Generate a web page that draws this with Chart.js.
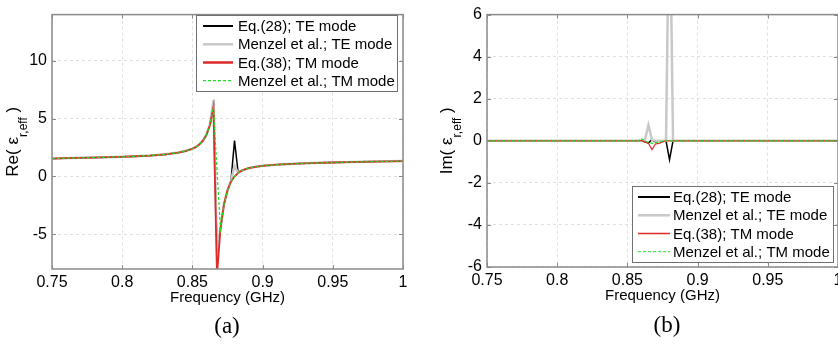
<!DOCTYPE html>
<html>
<head>
<meta charset="utf-8">
<script src="https://cdn.jsdelivr.net/npm/chart.js@4.4.0/dist/chart.umd.min.js"></script>
<style>
  html, body { margin: 0; padding: 0; background: #fff; overflow: hidden; width: 838px; height: 344px; }
  #wrapA { position: absolute; left: 0; top: 0; width: 420px; height: 344px; }
  #wrapB { position: absolute; left: 420px; top: 0; width: 440px; height: 344px; }
</style>
</head>
<body>
<div id="wrapA"><canvas id="chartA" width="420" height="344"></canvas></div>
<div id="wrapB"><canvas id="chartB" width="440" height="344"></canvas></div>
<script>
// frequency samples (GHz)
const freqs = [0.75, 0.76, 0.77, 0.78, 0.79, 0.80, 0.81, 0.82, 0.83, 0.84,
    0.845, 0.85, 0.8525, 0.855, 0.8575, 0.86, 0.8625, 0.865, 0.8675, 0.87,
    0.8725, 0.875, 0.8775, 0.88, 0.8825, 0.885, 0.8875, 0.89, 0.895, 0.90,
    0.91, 0.92, 0.93, 0.94, 0.95, 0.96, 0.97, 0.98, 0.99, 1.00];

// Re(eps_r,eff)
const reEq28TE = [1.55, 1.58, 1.61, 1.64, 1.67, 1.70, 1.75, 1.81, 1.90, 2.07,
    2.20, 2.40, 2.55, 2.78, 3.10, 3.60, 4.45, 6.10, -6.3, -4.5,
    -2.4, -1.2, -0.35, 3.10, 0.40, 0.50, 0.62, 0.72, 0.84, 0.92,
    1.02, 1.09, 1.14, 1.18, 1.21, 1.24, 1.27, 1.29, 1.31, 1.33];
const reMenzelTE = [1.55, 1.58, 1.61, 1.64, 1.67, 1.70, 1.75, 1.81, 1.90, 2.07,
    2.20, 2.40, 2.55, 2.78, 3.10, 3.62, 4.50, 6.60, -6.6, -4.5,
    -2.4, -1.2, -0.40, 0.90, 0.32, 0.50, 0.62, 0.72, 0.84, 0.92,
    1.02, 1.09, 1.14, 1.18, 1.21, 1.24, 1.27, 1.29, 1.31, 1.33];
const reEq38TM = [1.55, 1.58, 1.61, 1.64, 1.67, 1.70, 1.75, 1.81, 1.90, 2.07,
    2.20, 2.40, 2.55, 2.78, 3.10, 3.60, 4.45, 6.00, -8.6, -4.5,
    -2.4, -1.2, -0.45, 0.00, 0.30, 0.50, 0.62, 0.72, 0.84, 0.92,
    1.02, 1.09, 1.14, 1.18, 1.21, 1.24, 1.27, 1.29, 1.31, 1.33];
const reMenzelTM = [1.55, 1.58, 1.61, 1.64, 1.67, 1.70, 1.75, 1.81, 1.90, 2.07,
    2.20, 2.40, 2.55, 2.78, 3.10, 3.60, 4.45, 6.00, 0.60, -4.5,
    -2.4, -1.2, -0.45, 0.00, 0.30, 0.50, 0.62, 0.72, 0.84, 0.92,
    1.02, 1.09, 1.14, 1.18, 1.21, 1.24, 1.27, 1.29, 1.31, 1.33];

// Im(eps_r,eff)
const imEq28TE = [0, 0, 0, 0, 0, 0, 0, 0, 0, 0,
    0, 0, 0, 0, 0, 0, -0.05, -0.10, 0.05, -0.05,
    0, 0, 0, -0.90, 0, 0, 0, 0, 0, 0,
    0, 0, 0, 0, 0, 0, 0, 0, 0, 0];
const imMenzelTE = [0, 0, 0, 0, 0, 0, 0, 0, 0, 0,
    0, 0, 0, 0, 0, 0, 0.05, 0.75, 0.05, 0,
    0, 0, 0, 12.5, 0, 0, 0, 0, 0, 0,
    0, 0, 0, 0, 0, 0, 0, 0, 0, 0];
const imEq38TM = [0, 0, 0, 0, 0, 0, 0, 0, 0, 0,
    0, 0, 0, 0, 0, 0.02, -0.05, -0.12, -0.42, -0.15,
    -0.12, -0.05, 0, 0, 0, 0, 0, 0, 0, 0,
    0, 0, 0, 0, 0, 0, 0, 0, 0, 0];
const imMenzelTM = [0, 0, 0, 0, 0, 0, 0, 0, 0, 0,
    0, 0, 0, 0, 0, 0.10, 0.00, -0.08, -0.12, -0.10,
    -0.05, -0.02, 0.02, 0, 0, 0, 0, 0, 0, 0,
    0, 0, 0, 0, 0, 0, 0, 0, 0, 0];

const seriesNames = ['Eq.(28); TE mode', 'Menzel et al.; TE mode', 'Eq.(38); TM mode', 'Menzel et al.; TM mode'];

const freqTicks = [0.75, 0.8, 0.85, 0.9, 0.95, 1];
const freqTickLabels = ['0.75', '0.8', '0.85', '0.9', '0.95', '1'];
const reTicks = [-5, 0, 5, 10];
const reTickLabels = ['-5', '0', '5', '10'];
const imTicks = [-6, -4, -2, 0, 2, 4, 6];
const imTickLabels = ['-6', '-4', '-2', '0', '2', '4', '6'];

const SANS = '"Liberation Sans", Arial, Helvetica, sans-serif';

function toPoints(ys) {
    return freqs.map((f, i) => ({ x: f, y: ys[i] }));
}

function makeDatasets(values, redWidth) {
    const styles = [
        { color: '#000000', width: 1.5, dash: [], order: 4 },
        { color: '#c8c8c8', width: 2.5, dash: [], order: 3 },
        { color: '#dd2a2a', width: redWidth, dash: [], order: 2 },
        { color: '#1ee01e', width: 1.2, dash: [3, 2], order: 1 }
    ];
    return values.map((v, i) => ({
        label: seriesNames[i],
        data: toPoints(v),
        borderColor: styles[i].color,
        borderWidth: styles[i].width,
        borderDash: styles[i].dash,
        order: styles[i].order,
        pointRadius: 0,
        tension: 0,
        fill: false
    }));
}

function drawYTitle(ctx, cx, cy, main, sub, close) {
    ctx.save();
    ctx.translate(cx, cy);
    ctx.rotate(-Math.PI / 2);
    const big = '17px ' + SANS;
    const small = '12px ' + SANS;
    ctx.font = big;
    const w1 = ctx.measureText(main).width;
    const w3 = ctx.measureText(close).width;
    ctx.font = small;
    const w2 = ctx.measureText(sub).width;
    let x = -(w1 + w2 + w3) / 2;
    ctx.fillStyle = '#000';
    ctx.textAlign = 'left';
    ctx.textBaseline = 'alphabetic';
    ctx.font = big;
    ctx.fillText(main, x, 6);
    x += w1;
    ctx.font = small;
    ctx.fillText(sub, x, 15);
    x += w2;
    ctx.font = big;
    ctx.fillText(close, x, 6);
    ctx.restore();
}

const paperDecor = {
    id: 'paperDecor',
    afterDraw(chart, args, opts) {
        const ctx = chart.ctx;
        const a = chart.chartArea;
        const xs = chart.scales.x;
        const ys = chart.scales.y;
        ctx.save();

        // axes box with inward ticks
        ctx.strokeStyle = '#8a8a8a';
        ctx.lineWidth = 1.5;
        ctx.strokeRect(a.left, a.top, a.right - a.left, a.bottom - a.top);
        ctx.lineWidth = 1;
        ctx.beginPath();
        xs.ticks.forEach(t => {
            const px = Math.round(xs.getPixelForValue(t.value)) + 0.5;
            ctx.moveTo(px, a.bottom); ctx.lineTo(px, a.bottom - 4);
            ctx.moveTo(px, a.top); ctx.lineTo(px, a.top + 4);
        });
        ys.ticks.forEach(t => {
            const py = Math.round(ys.getPixelForValue(t.value)) + 0.5;
            ctx.moveTo(a.left, py); ctx.lineTo(a.left + 4, py);
            ctx.moveTo(a.right, py); ctx.lineTo(a.right - 4, py);
        });
        ctx.stroke();

        // legend
        const lg = opts.legend;
        ctx.fillStyle = '#fff';
        ctx.fillRect(lg.x1, lg.y1, lg.x2 - lg.x1, lg.y2 - lg.y1);
        ctx.strokeStyle = '#707070';
        ctx.lineWidth = 1;
        ctx.strokeRect(lg.x1 + 0.5, lg.y1 + 0.5, lg.x2 - lg.x1, lg.y2 - lg.y1);
        ctx.font = '15px ' + SANS;
        ctx.textAlign = 'left';
        ctx.textBaseline = 'middle';
        chart.data.datasets.forEach((ds, i) => {
            const y = lg.rows[i];
            ctx.strokeStyle = ds.borderColor;
            ctx.lineWidth = lg.widths[i];
            ctx.setLineDash(ds.borderDash);
            ctx.beginPath();
            ctx.moveTo(lg.s1, y);
            ctx.lineTo(lg.s2, y);
            ctx.stroke();
            ctx.setLineDash([]);
            ctx.fillStyle = '#000';
            ctx.fillText(ds.label, lg.tx, y + 1);
        });

        // x title
        ctx.font = '15px ' + SANS;
        ctx.textAlign = 'center';
        ctx.fillStyle = '#000';
        ctx.fillText('Frequency (GHz)', (a.left + a.right) / 2, opts.xTitleY);

        // y title
        drawYTitle(ctx, opts.yTitleX, (a.top + a.bottom) / 2, opts.yTitle, 'r,eff', ' )');

        // panel label
        ctx.font = '23px "Liberation Serif", "Times New Roman", serif';
        ctx.textAlign = 'center';
        ctx.textBaseline = 'middle';
        ctx.fillText(opts.panel, opts.panelX, opts.panelY);

        ctx.restore();
    }
};

function makeChart(canvasId, cfg) {
    return new Chart(document.getElementById(canvasId), {
        type: 'line',
        data: { datasets: makeDatasets(cfg.values, cfg.redWidth) },
        options: {
            responsive: false,
            animation: false,
            events: [],
            layout: { padding: cfg.padding },
            plugins: {
                legend: { display: false },
                tooltip: { enabled: false },
                paperDecor: cfg.decor
            },
            scales: {
                x: {
                    type: 'linear',
                    min: 0.75,
                    max: 1,
                    afterBuildTicks: s => { s.ticks = freqTicks.map(v => ({ value: v })); },
                    afterFit: s => { s.height = cfg.xHeight; },
                    grid: { color: '#e0e0e0', lineWidth: 1, drawTicks: false },
                    border: { display: false, dash: [3, 3] },
                    ticks: {
                        padding: 4,
                        color: '#000',
                        font: { family: SANS, size: 16 },
                        maxRotation: 0,
                        callback: (v, i) => freqTickLabels[i]
                    }
                },
                y: {
                    type: 'linear',
                    min: cfg.yMin,
                    max: cfg.yMax,
                    afterBuildTicks: s => { s.ticks = cfg.yTicks.map(v => ({ value: v })); },
                    afterFit: s => { s.width = cfg.yWidth; },
                    grid: { color: '#e0e0e0', lineWidth: 1, drawTicks: false },
                    border: { display: false, dash: [3, 3] },
                    ticks: {
                        padding: 5,
                        color: '#000',
                        font: { family: SANS, size: 16 },
                        callback: (v, i) => cfg.yTickLabels[i]
                    }
                }
            }
        },
        plugins: [paperDecor]
    });
}

makeChart('chartA', {
    values: [reEq28TE, reMenzelTE, reEq38TM, reMenzelTM],
    redWidth: 1.8,
    padding: { top: 10, right: 17, left: 0, bottom: 0 },
    xHeight: 75,
    yWidth: 52,
    yMin: -8,
    yMax: 14,
    yTicks: reTicks,
    yTickLabels: reTickLabels,
    decor: {
        legend: { x1: 196, y1: 15, x2: 397, y2: 91, rows: [26, 44.3, 62.5, 80.7],
                  s1: 203, s2: 233, tx: 238, widths: [2, 2.5, 2.5, 1.2] },
        xTitleY: 298,
        yTitleX: 12,
        yTitle: 'Re( \u03b5',
        panel: '(a)', panelX: 227, panelY: 327
    }
});

makeChart('chartB', {
    values: [imEq28TE, imMenzelTE, imEq38TM, imMenzelTM],
    redWidth: 1.2,
    padding: { top: 9, right: 22, left: 0, bottom: 0 },
    xHeight: 77,
    yWidth: 67,
    yMin: -6,
    yMax: 6,
    yTicks: imTicks,
    yTickLabels: imTickLabels,
    decor: {
        legend: { x1: 212, y1: 186, x2: 413, y2: 262, rows: [197, 215.3, 233.5, 251.7],
                  s1: 218, s2: 250, tx: 253, widths: [2, 2.5, 1.5, 1] },
        xTitleY: 296,
        yTitleX: 26,
        yTitle: 'Im( \u03b5',
        panel: '(b)', panelX: 247, panelY: 326
    }
});
</script>
</body>
</html>
